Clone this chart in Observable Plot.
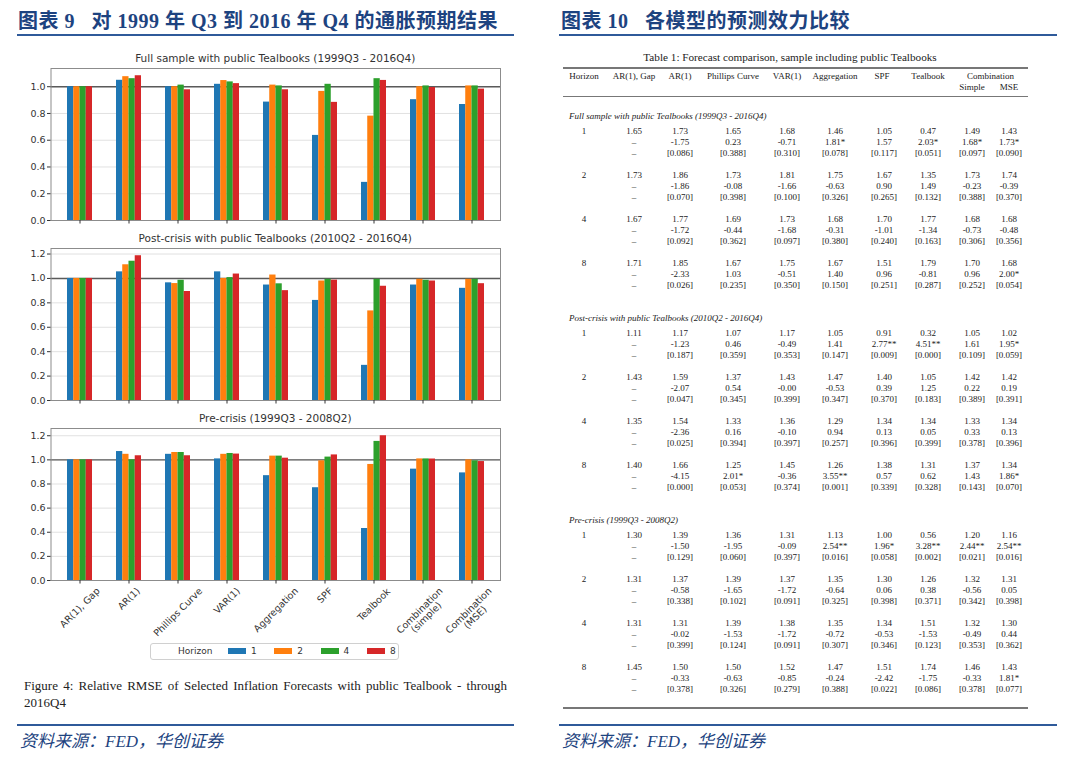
<!DOCTYPE html>
<html><head><meta charset="utf-8">
<script src="https://cdn.jsdelivr.net/npm/d3@7"></script>
<script src="https://cdn.jsdelivr.net/npm/@observablehq/plot@0.6"></script>
<style>
body{margin:0;width:1080px;height:769px;background:#fff;position:relative;overflow:hidden;}
.abs{position:absolute;}
.hdr{font-family:"Liberation Serif","Noto Sans CJK SC";font-weight:bold;font-size:20px;letter-spacing:0.5px;color:#1d4380;white-space:pre;line-height:20px;}
.bline{height:2px;background:#2f5a9a;}
.foot{font-family:"Liberation Serif","Noto Sans CJK SC";font-style:italic;font-size:17px;color:#1d4380;white-space:pre;line-height:17px;}
.ptitle{font-family:"DejaVu Sans";font-size:10.5px;color:#333;transform:translateX(-50%);white-space:nowrap;line-height:11px;}
.tb{font-family:"Liberation Serif";font-size:9px;color:#222;white-space:nowrap;line-height:11px;transform:translateX(-50%);}
.sec{font-family:"Liberation Serif";font-style:italic;font-size:9px;color:#222;white-space:nowrap;line-height:11px;}
.rule{background:#777;}
.cap{font-family:"Liberation Serif";font-size:13px;color:#222;line-height:17px;}
.leg{font-family:"DejaVu Sans";font-size:9px;color:#333;line-height:10px;}
</style></head><body>
<div id="root"></div>
<script>
// ---------- chart data ----------
const models = ["AR(1), Gap","AR(1)","Phillips Curve","VAR(1)","Aggregation","SPF","Tealbook","Combination\n(simple)","Combination\n(MSE)"];
const horizons = ["1","2","4","8"];
const horizonColors = ["#1f77b4","#ff7f0e","#2ca02c","#d62728"];
const panelTitles = ["Full sample with public Tealbooks (1999Q3 - 2016Q4)","Post-crisis with public Tealbooks (2010Q2 - 2016Q4)","Pre-crisis (1999Q3 - 2008Q2)"];
const fullH1 = [1.000,1.048,1.000,1.018,0.885,0.636,0.285,0.903,0.867];
const fullH2 = [1.000,1.075,1.000,1.046,1.012,0.965,0.780,1.000,1.006];
const fullH4 = [1.000,1.060,1.012,1.036,1.006,1.018,1.060,1.006,1.006];
const fullH8 = [1.000,1.082,0.977,1.023,0.977,0.883,1.047,0.994,0.982];
const postH1 = [1.000,1.054,0.964,1.054,0.946,0.820,0.288,0.946,0.919];
const postH2 = [1.000,1.112,0.958,1.000,1.028,0.979,0.734,0.993,0.993];
const postH4 = [1.000,1.141,0.985,1.007,0.956,0.993,0.993,0.985,0.993];
const postH8 = [1.000,1.186,0.893,1.036,0.900,0.986,0.936,0.979,0.957];
const preH1 = [1.000,1.069,1.046,1.008,0.869,0.769,0.431,0.923,0.892];
const preH2 = [1.000,1.046,1.061,1.046,1.031,0.992,0.962,1.008,1.000];
const preH4 = [1.000,1.000,1.061,1.053,1.031,1.023,1.153,1.008,0.992];
const preH8 = [1.000,1.034,1.034,1.048,1.014,1.041,1.200,1.007,0.986];
const ticksFull = [0,0.2,0.4,0.6,0.8,1.0];
const ticksSub = [0,0.2,0.4,0.6,0.8,1.0,1.2];

// ---------- table data ----------
const tableTitle = "Table 1: Forecast comparison, sample including public Tealbooks";
const tableColumns = ["Horizon","AR(1), Gap","AR(1)","Phillips Curve","VAR(1)","Aggregation","SPF","Tealbook"];
const tableSections = ["Full sample with public Tealbooks (1999Q3 - 2016Q4)","Post-crisis with public Tealbooks (2010Q2 - 2016Q4)","Pre-crisis (1999Q3 - 2008Q2)"];
const tableHorizons = ["1","2","4","8"];
const gapFull = ["1.65","1.73","1.67","1.71"];
const gapPost = ["1.11","1.43","1.35","1.40"];
const gapPre = ["1.30","1.31","1.31","1.45"];
const fullRmse = [
["1.73","1.65","1.68","1.46","1.05","0.47","1.49","1.43"],
["1.86","1.73","1.81","1.75","1.67","1.35","1.73","1.74"],
["1.77","1.69","1.73","1.68","1.70","1.77","1.68","1.68"],
["1.85","1.67","1.75","1.67","1.51","1.79","1.70","1.68"]];
const fullT = [
["-1.75","0.23","-0.71","1.81*","1.57","2.03*","1.68*","1.73*"],
["-1.86","-0.08","-1.66","-0.63","0.90","1.49","-0.23","-0.39"],
["-1.72","-0.44","-1.68","-0.31","-1.01","-1.34","-0.73","-0.48"],
["-2.33","1.03","-0.51","1.40","0.96","-0.81","0.96","2.00*"]];
const fullP = [
["0.086","0.388","0.310","0.078","0.117","0.051","0.097","0.090"],
["0.070","0.398","0.100","0.326","0.265","0.132","0.388","0.370"],
["0.092","0.362","0.097","0.380","0.240","0.163","0.306","0.356"],
["0.026","0.235","0.350","0.150","0.251","0.287","0.252","0.054"]];
const postRmse = [
["1.17","1.07","1.17","1.05","0.91","0.32","1.05","1.02"],
["1.59","1.37","1.43","1.47","1.40","1.05","1.42","1.42"],
["1.54","1.33","1.36","1.29","1.34","1.34","1.33","1.34"],
["1.66","1.25","1.45","1.26","1.38","1.31","1.37","1.34"]];
const postT = [
["-1.23","0.46","-0.49","1.41","2.77**","4.51**","1.61","1.95*"],
["-2.07","0.54","-0.00","-0.53","0.39","1.25","0.22","0.19"],
["-2.36","0.16","-0.10","0.94","0.13","0.05","0.33","0.13"],
["-4.15","2.01*","-0.36","3.55**","0.57","0.62","1.43","1.86*"]];
const postP = [
["0.187","0.359","0.353","0.147","0.009","0.000","0.109","0.059"],
["0.047","0.345","0.399","0.347","0.370","0.183","0.389","0.391"],
["0.025","0.394","0.397","0.257","0.396","0.399","0.378","0.396"],
["0.000","0.053","0.374","0.001","0.339","0.328","0.143","0.070"]];
const preRmse = [
["1.39","1.36","1.31","1.13","1.00","0.56","1.20","1.16"],
["1.37","1.39","1.37","1.35","1.30","1.26","1.32","1.31"],
["1.31","1.39","1.38","1.35","1.34","1.51","1.32","1.30"],
["1.50","1.50","1.52","1.47","1.51","1.74","1.46","1.43"]];
const preT = [
["-1.50","-1.95","-0.09","2.54**","1.96*","3.28**","2.44**","2.54**"],
["-0.58","-1.65","-1.72","-0.64","0.06","0.38","-0.56","0.05"],
["-0.02","-1.53","-1.72","-0.72","-0.53","-1.53","-0.49","0.44"],
["-0.33","-0.63","-0.85","-0.24","-2.42","-1.75","-0.33","1.81*"]];
const preP = [
["0.129","0.060","0.397","0.016","0.058","0.002","0.021","0.016"],
["0.338","0.102","0.091","0.325","0.398","0.371","0.342","0.398"],
["0.399","0.124","0.091","0.307","0.346","0.123","0.353","0.362"],
["0.378","0.326","0.279","0.388","0.022","0.086","0.378","0.077"]];

const root = document.getElementById("root");
function el(cls, text, left, top, style) {
  const d = document.createElement("div");
  d.className = "abs " + cls;
  if (text != null) d.textContent = text;
  d.style.left = left + "px"; d.style.top = top + "px";
  if (style) Object.assign(d.style, style);
  root.appendChild(d);
  return d;
}

// ---------- headers / footers ----------
el("hdr", "图表 9   对 1999 年 Q3 到 2016 年 Q4 的通胀预期结果", 18, 11);
el("bline", null, 17, 34, {width: "497px"});
el("hdr", "图表 10   各模型的预测效力比较", 561, 11);
el("bline", null, 559, 34, {width: "498px"});
el("bline", null, 17, 724, {width: "497px"});
el("bline", null, 559, 724, {width: "498px"});
el("foot", "资料来源：FED，华创证券", 20, 733);
el("foot", "资料来源：FED，华创证券", 562, 733);

// ---------- bar panels ----------
const W = 540, ML = 50.5, MR = 40, INNER = 152;
function panel(series, yTicks, withLabels) {
  const rows = [];
  series.forEach((vals, k) => vals.forEach((v, i) => rows.push({model: models[i], horizon: horizons[k], value: v})));
  const yMax = d3.max(rows, d => d.value) * 1.05;
  const sub = (W - ML - MR) / models.length * 0.5 / horizons.length;
  const mt = 10, mb = withLabels ? 62 : 10;
  const marks = [
    Plot.gridY({ticks: yTicks, stroke: "#e1e1e1", strokeOpacity: 1}),
    Plot.ruleY([1], {stroke: "#5a5a5a", strokeWidth: 1.4}),
    ...horizons.map((h, k) => Plot.barY(rows.filter(d => d.horizon === h), {
      x: "model", y: "value", fill: horizonColors[k], insetLeft: k * sub, insetRight: (horizons.length - 1 - k) * sub
    })),
    Plot.frame({stroke: "#8c8c8c"}),
    Plot.axisY({ticks: yTicks, tickFormat: ".1f", tickSize: 3.5, tickPadding: 2, label: null}),
    Plot.axisX({tickSize: 3.5, tickFormat: () => "", label: null})
  ];
  if (withLabels) marks.push(Plot.text(models, {x: d => d, text: d => d, frameAnchor: "bottom", rotate: -45, textAnchor: "middle", lineAnchor: "middle", dy: 5, fill: "#333", fontSize: 9.5}));
  return Plot.plot({
    width: W, height: mt + INNER + mb,
    marginLeft: ML, marginRight: MR, marginTop: mt, marginBottom: mb,
    x: {type: "band", domain: models, paddingInner: 0.5, paddingOuter: 0.25, label: null},
    y: {domain: [0, yMax], label: null},
    style: {fontFamily: "DejaVu Sans", fontSize: "9.5px", color: "#333", background: "transparent", overflow: "visible"},
    marks
  });
}
const panelSeries = [[fullH1, fullH2, fullH4, fullH8], [postH1, postH2, postH4, postH8], [preH1, preH2, preH4, preH8]];
const panelTicks = [ticksFull, ticksSub, ticksSub];
const frameTops = [68, 248, 428];
panelSeries.forEach((s, p) => {
  const svg = panel(s, panelTicks[p], p === 2);
  const wrap = el("", null, 0, frameTops[p] - 10);
  wrap.appendChild(svg);
  el("ptitle", panelTitles[p], (ML + W - MR) / 2, frameTops[p] - 15);
  if (p === 2) {
    svg.querySelectorAll('g[aria-label="text"] text').forEach(t => {
      const bb = t.getBBox();
      const h = (bb.width + bb.height) * Math.SQRT1_2;
      t.setAttribute("transform", `translate(0,${h / 2}) ` + (t.getAttribute("transform") || ""));
    });
  }
});

// ---------- legend ----------
el("", null, 150, 643, {width: "247px", height: "15px", border: "1px solid #d0d0d0", borderRadius: "3px", background: "#fff"});
el("leg", "Horizon", 178, 646);
horizons.forEach((h, i) => {
  el("", null, 228 + i * 46.3, 648, {width: "18px", height: "6px", background: horizonColors[i]});
  el("leg", h, 251 + i * 46.3, 646);
});

// ---------- caption ----------
el("cap", "Figure 4: Relative RMSE of Selected Inflation Forecasts with public Tealbook - through", 24, 677, {width: "483px", textAlign: "justify", textAlignLast: "justify", whiteSpace: "nowrap"});
el("cap", "2016Q4", 24, 694);

// ---------- table ----------
const colX = [584, 634, 680, 733, 787, 835, 884, 928, 972, 1009];
el("tb", tableTitle, 790, 50.5, {fontSize: "11.2px", lineHeight: "13px"});
el("rule", null, 563, 66.5, {width: "465px", height: "2px"});
tableColumns.forEach((c, i) => el("tb", c, colX[i] - (i === 6 ? 2 : 0), 70.5));
el("tb", "Combination", (colX[8] + colX[9]) / 2, 70.5);
el("tb", "Simple", colX[8], 81.5);
el("tb", "MSE", colX[9], 81.5);
el("rule", null, 563, 95.5, {width: "465px", height: "1.3px"});
const secGap = [gapFull, gapPost, gapPre];
const secRmse = [fullRmse, postRmse, preRmse];
const secT = [fullT, postT, preT];
const secP = [fullP, postP, preP];
tableSections.forEach((s, si) => {
  const ty = 116 + si * 202;
  el("sec", s, 569, ty - 5.5);
  tableHorizons.forEach((h, hi) => {
    const by = ty + 15 + hi * 44;
    el("tb", h, colX[0], by - 5.5);
    el("tb", secGap[si][hi], colX[1], by - 5.5);
    el("tb", "–", colX[1], by + 11 - 5.5);
    el("tb", "–", colX[1], by + 22 - 5.5);
    for (let j = 0; j < 8; j++) {
      el("tb", secRmse[si][hi][j], colX[j + 2], by - 5.5);
      el("tb", secT[si][hi][j], colX[j + 2], by + 11 - 5.5);
      el("tb", "[" + secP[si][hi][j] + "]", colX[j + 2], by + 22 - 5.5);
    }
  });
});
el("rule", null, 563, 706.5, {width: "465px", height: "2.5px"});
</script></body></html>
